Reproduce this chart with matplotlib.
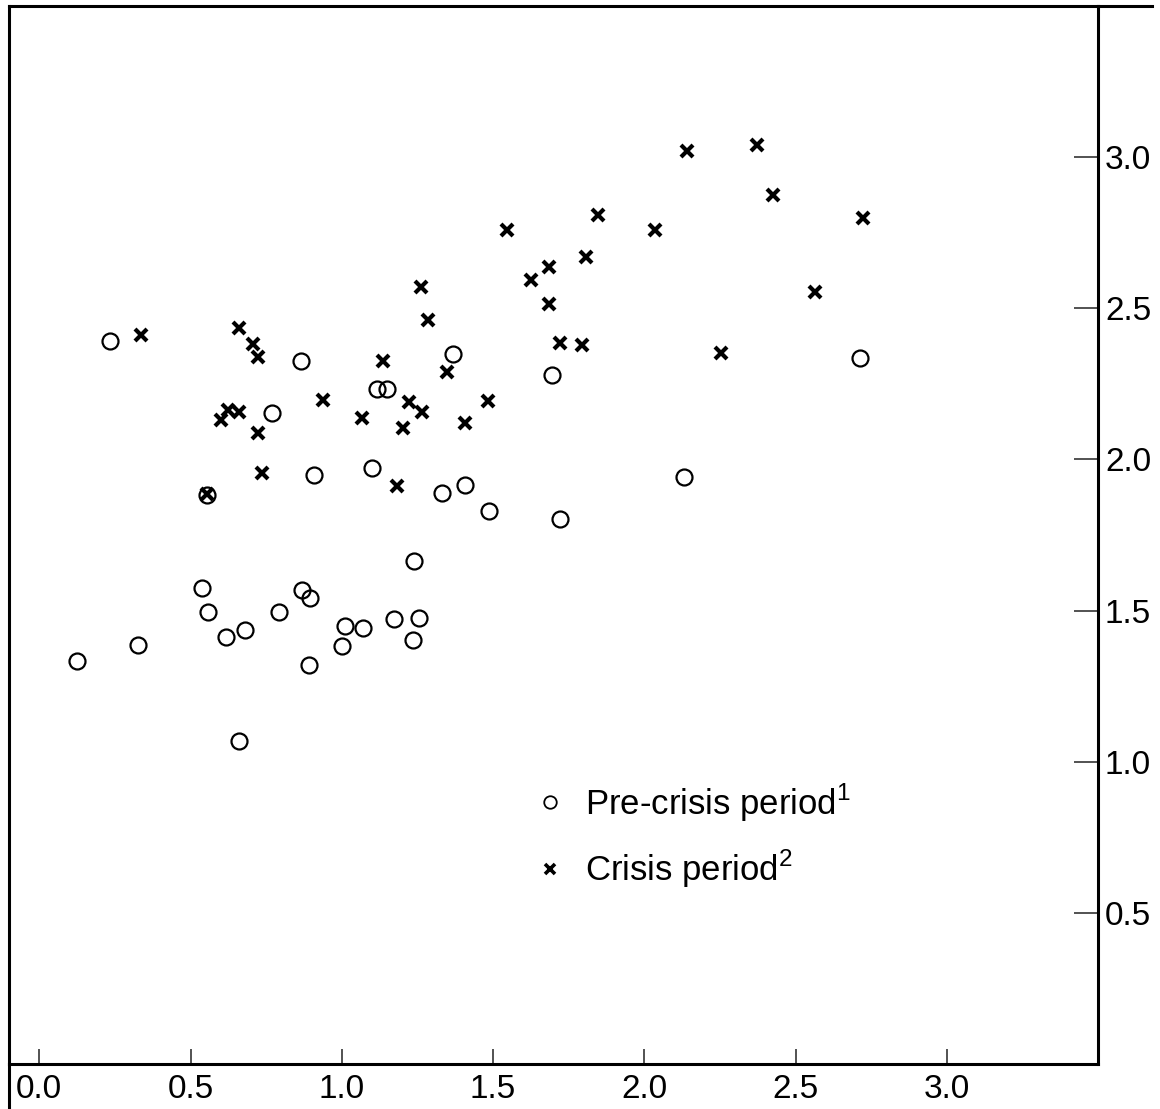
import matplotlib
matplotlib.use("Agg")
import matplotlib.pyplot as plt
from matplotlib.lines import Line2D

plt.rcParams['font.family'] = ['Liberation Sans', 'DejaVu Sans']
plt.rcParams['mathtext.fontset'] = 'custom'
plt.rcParams['mathtext.rm'] = 'Liberation Sans'

# pre-crisis period (circles)
pre_x = [0.125, 0.235, 0.328, 0.538, 0.559, 0.555, 0.617, 0.680, 0.659, 0.770,
         0.794, 0.865, 0.867, 0.896, 0.893, 0.907, 1.001, 1.011, 1.069, 1.100,
         1.117, 1.150, 1.172, 1.237, 1.254, 1.240, 1.330, 1.367, 1.408, 1.488,
         1.694, 1.723, 2.133, 2.712]
pre_y = [1.333, 2.391, 1.385, 1.576, 1.496, 1.881, 1.413, 1.435, 1.070, 2.154,
         1.495, 2.327, 1.568, 1.540, 1.319, 1.950, 1.382, 1.449, 1.443, 1.973,
         2.232, 2.232, 1.473, 1.401, 1.474, 1.663, 1.888, 2.350, 1.914, 1.829,
         2.279, 1.802, 1.941, 2.336]

# crisis period (crosses)
cr_x = [0.336, 0.555, 0.601, 0.623, 0.661, 0.659, 0.708, 0.723, 0.722, 0.736,
        0.937, 1.067, 1.135, 1.183, 1.201, 1.221, 1.263, 1.284, 1.266, 1.347,
        1.406, 1.482, 1.545, 1.624, 1.684, 1.684, 1.722, 1.795, 1.808, 1.846,
        2.034, 2.141, 2.254, 2.372, 2.425, 2.563, 2.723]
cr_y = [2.413, 1.887, 2.132, 2.162, 2.156, 2.436, 2.383, 2.338, 2.088, 1.956,
        2.195, 2.138, 2.327, 1.912, 2.103, 2.190, 2.569, 2.460, 2.156, 2.289,
        2.121, 2.193, 2.759, 2.595, 2.637, 2.513, 2.384, 2.380, 2.671, 2.810,
        2.759, 3.020, 2.351, 3.039, 2.874, 2.553, 2.800]

xticks = [0.0, 0.5, 1.0, 1.5, 2.0, 2.5, 3.0]
yticks = [0.5, 1.0, 1.5, 2.0, 2.5, 3.0]
labels = ['Pre-crisis period$^{\\mathregular{1}}$', 'Crisis period$^{\\mathregular{2}}$']

W, H = 1160, 1109
fig = plt.figure(figsize=(W / 100, H / 100), dpi=100)
ax = fig.add_axes([9 / W, 1 - 1064 / H, (1098 - 9) / W, (1064 - 6) / H])

ax.plot(pre_x, pre_y, 'o', ms=11.5, mfc='none', mec='black', mew=1.6)
ax.plot(cr_x, cr_y, 'x', ms=9, mec='black', mew=3)

ax.set_xlim(-0.1, 3.5)
ax.set_ylim(0, 3.5)
ax.set_xticks(xticks)
ax.set_xticklabels(['%.1f' % v for v in xticks])
ax.set_yticks(yticks)
ax.set_yticklabels(['%.1f' % v for v in yticks])
ax.yaxis.tick_right()
ax.tick_params(axis='x', direction='in', length=11, width=1.3, color='#444444',
               labelsize=24, pad=7)
ax.tick_params(axis='y', direction='in', length=17, width=1.3, color='#444444',
               labelsize=24, pad=5)
for s in ax.spines.values():
    s.set_linewidth(2.2)

# outer frame bits running past the axes box
fig.add_artist(Line2D([1098 / W, 1152 / W], [1 - 6 / H, 1 - 6 / H],
                      transform=fig.transFigure, color='black', lw=2.2))
fig.add_artist(Line2D([9 / W, 9 / W], [1 - 1064 / H, 0],
                      transform=fig.transFigure, color='black', lw=2.2))

handles = [Line2D([], [], ls='none', marker='o', ms=9, mfc='none', mec='black', mew=1.3),
           Line2D([], [], ls='none', marker='x', ms=7, mec='black', mew=2.6)]
ax.legend(handles, labels, loc='upper left', bbox_to_anchor=(0.4836, 0.267),
          frameon=False, fontsize=25, handlelength=0.8, handletextpad=0.62,
          labelspacing=0.7, borderpad=0, borderaxespad=0)

fig.savefig('out.png', dpi=100)
